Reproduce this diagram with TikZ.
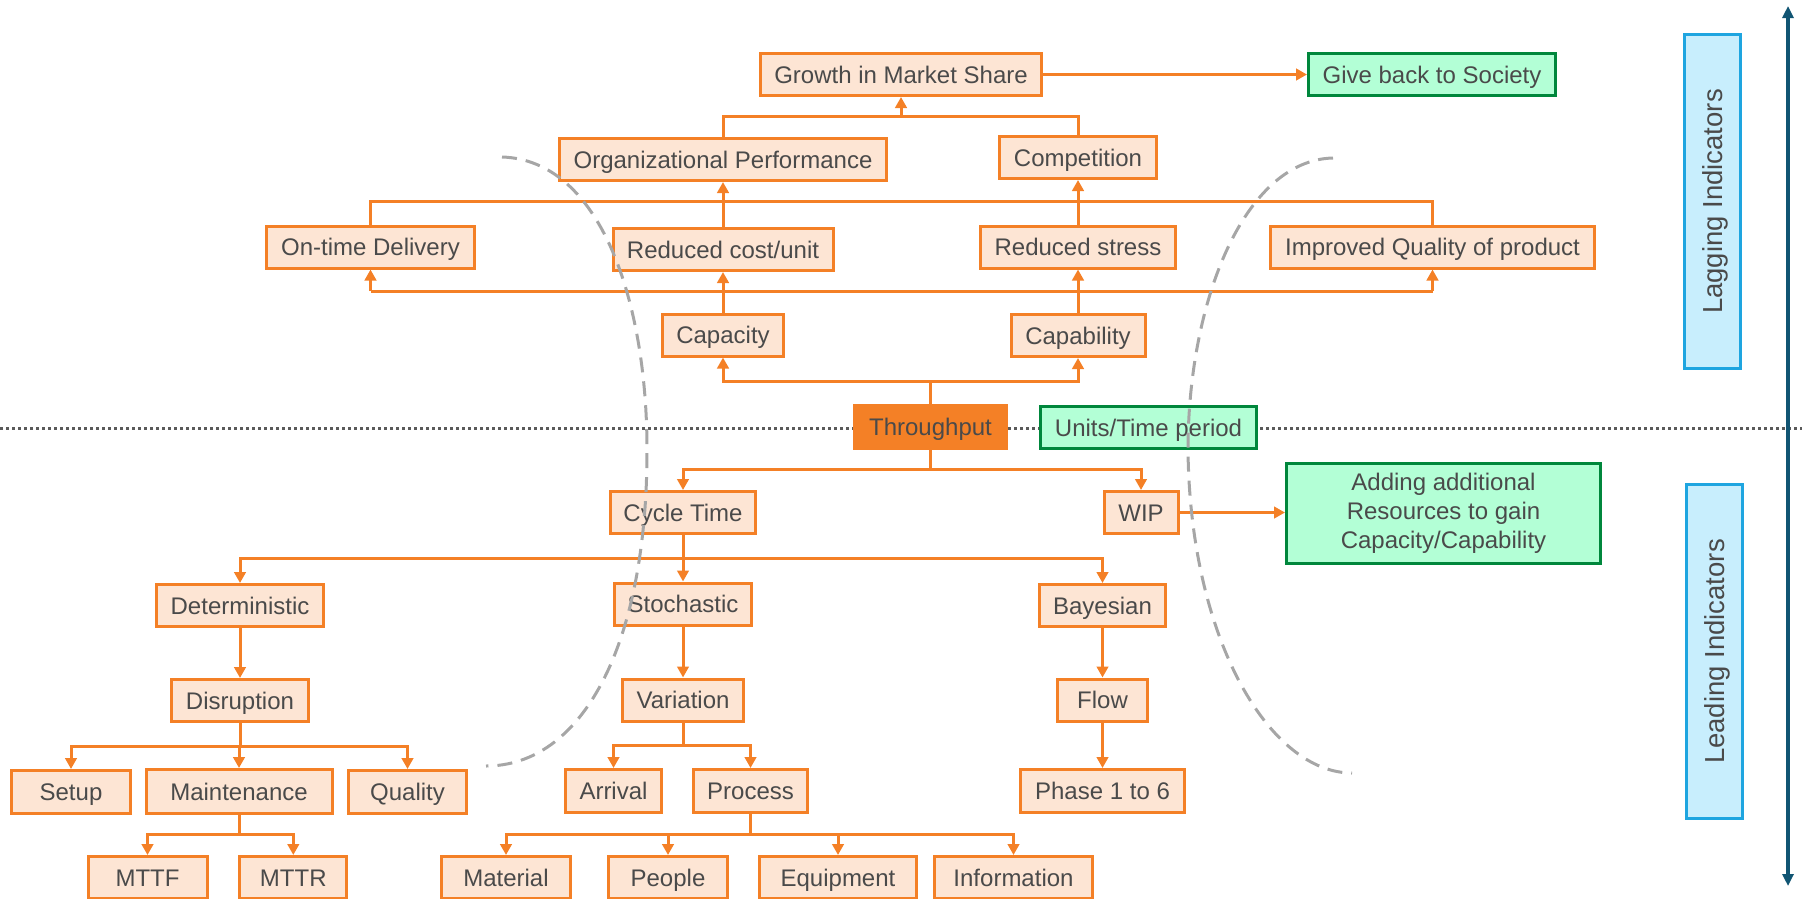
\documentclass[tikz,border=0pt]{standalone}
\usepackage{fontspec}
\setmainfont{Liberation Sans}
\usetikzlibrary{arrows.meta}

\definecolor{orng}{RGB}{244,128,38}
\definecolor{peach}{RGB}{253,229,212}
\definecolor{txt}{RGB}{74,74,74}
\definecolor{mint}{RGB}{179,255,214}
\definecolor{dgreen}{RGB}{0,135,60}
\definecolor{skyfill}{RGB}{200,238,253}
\definecolor{skyline}{RGB}{30,165,224}
\definecolor{axisblue}{RGB}{17,85,115}
\definecolor{dotgray}{RGB}{90,90,90}
\definecolor{curvegray}{RGB}{166,166,166}

\begin{document}
\begin{tikzpicture}[x=1pt,y=-1pt,
  font=\fontsize{24}{29}\selectfont,
  box/.style={draw=orng, fill=peach, line width=3pt, text=txt, inner sep=0pt,
    text height=17.2pt, text depth=0pt, minimum height=42pt},
  hotbox/.style={box, fill=orng},
  greenbox/.style={box, draw=dgreen, fill=mint},
  sidebox/.style={draw=skyline, fill=skyfill, line width=3pt, text=txt, inner sep=0pt,
    text height=19.7pt, text depth=0pt, font=\fontsize{27.5}{32}\selectfont, rotate=90},
  conn/.style={draw=orng, line width=3pt},
  arr/.style={conn, -{Triangle[length=11pt,width=11.5pt]}},
  axisline/.style={draw=axisblue, line width=3.2pt, {Triangle[length=12pt,width=11pt]}-{Triangle[length=12pt,width=11pt]}},
  levelline/.style={draw=dotgray, line width=3pt, dash pattern=on 3pt off 3pt},
  boundary/.style={draw=curvegray, line width=3pt, dash pattern=on 15pt off 9pt}
]
\useasboundingbox (0,0) rectangle (1802,898);

% level separator between lagging and leading indicators
\coordinate (lvlL) at (0,428);
\coordinate (lvlR) at (1802,428);
\draw[levelline] (lvlL) -- (lvlR);

% ---------- lagging side ----------
\node[box, minimum width=281pt] (growth) at (901,74.5) {Growth in Market Share};
\node[greenbox, minimum width=247pt] (give) at (1432,74.5) {Give back to Society};
\node[box, minimum width=327pt] (org) at (723,159.5) {Organizational Performance};
\node[box, minimum width=157pt] (comp) at (1078,157.5) {Competition};
\node[box, minimum width=208pt] (ontime) at (370.5,247) {On-time Delivery};
\node[box, minimum width=220pt] (redcost) at (723,249.5) {Reduced cost/unit};
\node[box, minimum width=195pt] (redstress) at (1078,247) {Reduced stress};
\node[box, minimum width=324pt] (impq) at (1432.5,247) {Improved Quality of product};
\node[box, minimum width=121pt] (capacity) at (723,335) {Capacity};
\node[box, minimum width=134pt] (capability) at (1078,335.5) {Capability};

% ---------- throughput level ----------
\node[hotbox, minimum width=152pt, minimum height=43pt] (through) at (930.5,427) {Throughput};
\node[greenbox, minimum width=216pt, minimum height=42.5pt] (units) at (1148.5,427.5) {Units/Time period};

% ---------- leading side ----------
\node[box, minimum width=144.5pt] (cycle) at (683,512.5) {Cycle Time};
\node[box, minimum width=74pt] (wip) at (1141,512.5) {WIP};
\node[greenbox, minimum width=314pt, minimum height=100pt, align=center,
      text height=, text depth=] (adding) at (1443.5,513.5)
      {Adding additional\\Resources to gain\\Capacity/Capability};
\node[box, minimum width=167pt] (determ) at (240,605.5) {Deterministic};
\node[box, minimum width=137pt] (stoch) at (683,604) {Stochastic};
\node[box, minimum width=126pt] (bayes) at (1102.5,605.5) {Bayesian};
\node[box, minimum width=136.5pt] (disrupt) at (240,700.5) {Disruption};
\node[box, minimum width=121.5pt] (variation) at (683,700) {Variation};
\node[box, minimum width=89.5pt] (flow) at (1102.5,700) {Flow};
\node[box, minimum width=119.5pt, minimum height=43pt] (setup) at (71,792) {Setup};
\node[box, minimum width=186pt, minimum height=44pt] (maint) at (239,791.5) {Maintenance};
\node[box, minimum width=118pt, minimum height=43pt] (quality) at (407.5,792) {Quality};
\node[box, minimum width=96pt, minimum height=43pt] (arrival) at (613.5,791) {Arrival};
\node[box, minimum width=114pt, minimum height=43pt] (process) at (750.5,791) {Process};
\node[box, minimum width=164pt, minimum height=43pt] (phase) at (1102.5,791) {Phase 1 to 6};
\node[box, minimum width=119pt] (mttf) at (147.5,877.5) {MTTF};
\node[box, minimum width=107pt] (mttr) at (293.3,877.5) {MTTR};
\node[box, minimum width=129pt] (material) at (506,877.5) {Material};
\node[box, minimum width=119pt] (people) at (668,877.5) {People};
\node[box, minimum width=157pt] (equip) at (838,877.5) {Equipment};
\node[box, minimum width=158pt] (info) at (1013.5,877.5) {Information};

% ---------- side labels and axis ----------
\node[sidebox, minimum width=334pt, minimum height=56pt] (lagging) at (1712.5,201.5) {Lagging Indicators};
\node[sidebox, minimum width=334pt, minimum height=56pt] (leading) at (1714.5,651.5) {Leading Indicators};
\coordinate (axtop) at (1788,6);
\coordinate (axbot) at (1788,886);
\draw[axisline] (axbot) -- (axtop);

% ---------- connectors, lagging side ----------
\coordinate (gj) at (901,116);
\draw[conn] (org.north) |- (gj) -| (comp.north);
\draw[arr] (gj) -- (growth.south);
\draw[arr] (growth.east) -- (give.west);

\coordinate (topbus) at (0,201);
\draw[conn] (ontime.north) -- (ontime.north |- topbus) -- (impq.north |- topbus) -- (impq.north);
\draw[arr] (redcost.north) -- (redcost.north |- org.south);
\draw[arr] (redstress.north) -- (redstress.north |- comp.south);

\coordinate (lowbus) at (0,291);
\draw[conn] (ontime.south |- lowbus) -- (impq.south |- lowbus);
\draw[arr] (ontime.south |- lowbus) -- (ontime.south);
\draw[arr] (impq.south |- lowbus) -- (impq.south);
\draw[arr] (capacity.north) -- (capacity.north |- redcost.south);
\draw[arr] (capability.north) -- (capability.north |- redstress.south);

\coordinate (tu) at (930.5,381);
\draw[conn] (through.north) -- (tu);
\draw[arr] (tu) -| (capacity.south);
\draw[arr] (tu) -| (capability.south);

% ---------- connectors, leading side ----------
\coordinate (td) at (930.5,469.3);
\draw[conn] (through.south) -- (td);
\draw[arr] (td) -| (cycle.north);
\draw[arr] (td) -| (wip.north);
\draw[arr] (wip.east) -- (wip.east -| adding.west);

\coordinate (cd) at (683,558.7);
\draw[conn] (cycle.south) -- (cd);
\draw[arr] (cd) -| (determ.north);
\draw[arr] (cd) -| (stoch.north);
\draw[arr] (cd) -| (bayes.north);

\draw[arr] (determ.south) -- (disrupt.north);
\draw[arr] (stoch.south) -- (stoch.south |- variation.north);
\draw[arr] (bayes.south) -- (flow.north);
\draw[arr] (flow.south) -- (phase.north);

\coordinate (dd) at (240,746);
\draw[conn] (disrupt.south) -- (dd);
\draw[arr] (dd) -| (setup.north);
\draw[arr] (dd) -| (maint.north);
\draw[arr] (dd) -| (quality.north);

\coordinate (vd) at (683,745);
\draw[conn] (variation.south) -- (vd);
\draw[arr] (vd) -| (arrival.north);
\draw[arr] (vd) -| (process.north);

\coordinate (md) at (239,834);
\draw[conn] (maint.south) -- (md);
\draw[arr] (md) -| (mttf.north);
\draw[arr] (md) -| (mttr.north);

\coordinate (pd) at (750.5,834.5);
\draw[conn] (process.south) -- (pd);
\draw[arr] (pd) -| (material.north);
\draw[arr] (pd) -| (people.north);
\draw[arr] (pd) -| (equip.north);
\draw[arr] (pd) -| (info.north);

% ---------- dashed boundaries around the core ----------
\draw[boundary] (502,157) .. controls (600,160) and (647,300) .. (647,450)
  .. controls (647,650) and (580,766) .. (486,766);
\draw[boundary] (1333,158) .. controls (1245,160) and (1188,300) .. (1188,450)
  .. controls (1190,640) and (1270,773) .. (1352,773);
\end{tikzpicture}
\end{document}
